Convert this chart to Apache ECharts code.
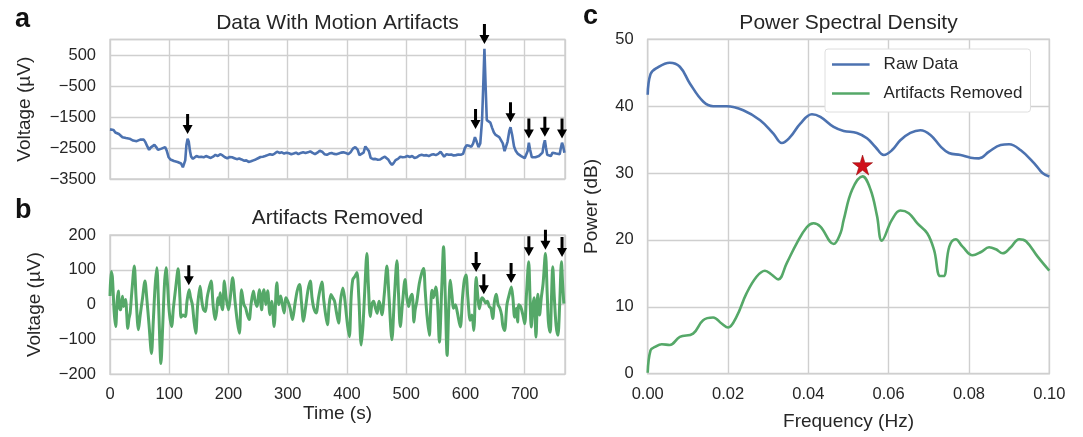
<!DOCTYPE html>
<html><head><meta charset="utf-8">
<script src="https://cdn.jsdelivr.net/npm/echarts@6/dist/echarts.min.js"></script>
<style>html,body{margin:0;padding:0;background:#fff}#c{width:1083px;height:437px}</style>
</head><body><div id="c"></div>
<script>
// ---------- DATA ----------
// Panel a: raw signal [time (s), voltage (µV)]
const rawSignal = [[0,-1900],[3,-1950],[6,-1920],[9,-2000],[12,-1980],[15,-2050],[18,-2080],[21,-2150],[24,-2200],[27,-2180],[30,-2240],[33,-2200],[36,-2190],[39,-2260],[42,-2230],[45,-2280],[48,-2260],[51,-2230],[54,-2190],[57,-2230],[60,-2320],[63,-2450],[66,-2560],[69,-2480],[72,-2420],[75,-2400],[78,-2470],[81,-2560],[84,-2620],[87,-2520],[90,-2460],[93,-2470],[96,-2600],[99,-2800],[102,-2870],[105,-2890],[108,-2920],[111,-2900],[114,-2950],[117,-2930],[120,-3000],[123,-3120],[125,-3150],[127,-2900],[129,-2400],[131,-2200],[133,-2300],[135,-2600],[137,-2780],[140,-2850],[143,-2800],[146,-2760],[150,-2790],[154,-2780],[158,-2800],[162,-2760],[166,-2790],[170,-2820],[174,-2780],[178,-2720],[182,-2760],[186,-2700],[190,-2740],[194,-2800],[198,-2830],[202,-2790],[206,-2800],[210,-2830],[214,-2860],[218,-2840],[222,-2870],[226,-2910],[230,-2900],[234,-2950],[238,-2930],[242,-2900],[246,-2870],[250,-2830],[254,-2790],[258,-2780],[262,-2760],[266,-2730],[270,-2700],[274,-2720],[278,-2680],[282,-2620],[286,-2660],[290,-2640],[294,-2680],[298,-2650],[302,-2670],[306,-2700],[310,-2680],[314,-2650],[318,-2700],[322,-2660],[326,-2640],[330,-2660],[334,-2640],[338,-2610],[342,-2660],[346,-2700],[350,-2650],[354,-2590],[358,-2620],[362,-2700],[366,-2720],[370,-2680],[374,-2660],[378,-2690],[382,-2700],[386,-2680],[390,-2650],[394,-2640],[398,-2660],[402,-2700],[406,-2640],[410,-2520],[414,-2470],[418,-2550],[421,-2730],[424,-2720],[428,-2650],[431,-2450],[434,-2440],[437,-2600],[440,-2820],[444,-2860],[448,-2850],[452,-2880],[456,-2870],[460,-2820],[464,-2780],[467,-2790],[470,-2880],[473,-2980],[476,-3050],[479,-2980],[482,-2890],[486,-2850],[490,-2780],[494,-2800],[498,-2790],[502,-2760],[506,-2790],[510,-2760],[514,-2820],[518,-2800],[522,-2740],[526,-2720],[530,-2740],[534,-2730],[538,-2760],[542,-2720],[546,-2700],[550,-2730],[554,-2690],[558,-2620],[561,-2700],[564,-2780],[568,-2700],[572,-2720],[576,-2710],[580,-2740],[584,-2730],[588,-2710],[592,-2720],[596,-2690],[599,-2500],[602,-2410],[606,-2430],[610,-2460],[613,-2350],[616,-2150],[619,-2300],[622,-2470],[625,-2350],[628,-1600],[630,-500],[632,700],[634,-500],[636,-1600],[639,-1650],[642,-1680],[645,-1850],[648,-2000],[651,-2080],[654,-2100],[657,-2150],[660,-2200],[663,-2350],[666,-2600],[668,-2650],[671,-2300],[674,-1950],[676,-1830],[679,-2100],[682,-2450],[685,-2600],[688,-2680],[691,-2700],[694,-2760],[697,-2800],[700,-2830],[703,-2880],[705,-2600],[707,-2330],[709,-2550],[712,-2800],[715,-2760],[718,-2800],[721,-2740],[724,-2760],[727,-2700],[730,-2650],[732,-2400],[734,-2250],[736,-2500],[738,-2720],[741,-2700],[744,-2760],[747,-2650],[750,-2700],[753,-2680],[756,-2740],[759,-2700],[761,-2500],[763,-2330],[765,-2450],[767,-2650]];
// Panel b: artifacts removed [time (s), voltage (µV)]
const cleanSignal = [[0,25],[2,95],[4,80],[7,-20],[9.6,-63],[12,10],[14,39],[16,-10],[18,-15],[21,24],[23,-5],[26.5,15],[28,-20],[30,-68],[32,-40],[34,-24],[37,40],[41,111],[44,20],[48,-72],[51,-30],[55,20],[59,68],[62,20],[66,-60],[70,-140],[73,-50],[76,50],[79,106],[82,0],[86,-169],[89,-60],[92,60],[94.6,106],[97,60],[100,-20],[104,-63],[107,-10],[111,50],[115,103],[118,20],[120,-36],[123,-30],[127,-34],[130,10],[133.5,43],[136,20],[139,0],[142,-50],[144.7,-82],[148,0],[152,53],[155,10],[158,-15],[161,-20],[164,20],[167,45],[170.6,68],[174,0],[177.4,-43],[180,-20],[182,20],[184,0],[186,34],[188,0],[190,-15],[193,68],[196,20],[200,-15],[203,20],[207,77],[211,10],[215,-50],[218.5,-82],[222,43],[226,0],[229,-10],[232,-30],[235,-43],[238,0],[242,39],[245,10],[248,-5],[252,43],[256,-15],[258,30],[260,43],[263,0],[266,40],[270,-29],[273,10],[277,-63],[281.6,63],[285,0],[288,25],[290,10],[294,-24],[297,20],[300,10],[304,-10],[308,-43],[312,0],[316,40],[320,58],[323,10],[326.6,-48],[330,-10],[334,40],[338,68],[341,20],[344,-10],[348,-24],[352,20],[357.6,65],[361,10],[364,-30],[367,-58],[370,0],[373,29],[376,20],[379,10],[382,-20],[385.8,-53],[389,10],[393,48],[396,20],[398.7,-24],[401,-60],[404,-92],[407,20],[409.8,72],[413,80],[416.7,92],[420,20],[424,-116],[427,-60],[430,40],[433.6,147],[436,60],[439.3,-34],[442,0],[445,10],[448,-10],[451,-25],[454,10],[456,0],[459,-29],[463,30],[467.4,111],[471,20],[475.8,-101],[480,20],[484.3,126],[487,30],[490,-63],[494,10],[498,72],[501,20],[504,-5],[507,20],[510,30],[513,-50],[515,-16],[518,10],[522,60],[526,90],[529.4,104],[532,40],[535,-30],[539,-88],[541,-20],[543.5,41],[546,20],[550,51],[553,0],[556,-108],[560,50],[563,166],[566,20],[569,-146],[572,0],[574.4,70],[577,30],[580,-10],[583,0],[586,-20],[591.3,-64],[595,20],[598,70],[600.9,85],[604,20],[608,-45],[611,-30],[614,-74],[618,78],[621,20],[623.4,-12],[626,10],[628,20],[630.7,15],[634,5],[637,10],[640,-5],[643,-10],[646,-40],[649,10],[652,30],[655,0],[658,-10],[661,-30],[663,-60],[666,-74],[670,0],[674,30],[677.4,51],[680,20],[683,-36],[686,-10],[688,-50],[690,0],[693,-5],[697,-30],[700,-55],[703,30],[706.7,123],[709,20],[711,-64],[714,0],[716,20],[719,-93],[722,30],[725,-30],[728,20],[731,60],[735,147],[738,30],[740,-50],[743,-79],[745,10],[747.3,109],[750,20],[753,-60],[756,-88],[759,0],[762,123],[764,60],[766,3]];
// Arrow tips [time, voltage]
const arrowsA = [[131,-2050],[617,-1890],[632,855],[676,-1670],[707,-2190],[734,-2135],[763,-2190]];
const arrowsB = [[133,56],[618,94],[631,30],[677,62],[707,139],[735,158],[763,137]];
// Panel c: PSD [frequency (Hz), power (dB)]
const psdRaw = [[0,41.7],[0.0007,44.8],[0.0022,45.7],[0.0055,46.5],[0.008,45.9],[0.0105,43.4],[0.0138,40.7],[0.0163,40.0],[0.0197,40.0],[0.0238,39.4],[0.028,37.9],[0.0313,35.9],[0.0334,34.5],[0.0355,35.4],[0.038,37.4],[0.0409,38.8],[0.043,38.4],[0.0463,36.9],[0.0488,36.3],[0.0521,36.0],[0.0546,35.2],[0.0567,33.9],[0.0588,32.7],[0.0608,33.4],[0.0629,34.9],[0.0654,36.0],[0.0679,36.4],[0.0704,35.7],[0.0729,34.0],[0.075,33.0],[0.0779,32.7],[0.0804,32.3],[0.0825,32.2],[0.085,33.2],[0.0879,34.2],[0.09,34.3],[0.0929,33.4],[0.0962,31.5],[0.0983,30.0],[0.1,29.5]];
const psdClean = [[0,0.15],[0.0007,3.5],[0.0018,4.0],[0.0035,4.4],[0.0055,4.3],[0.008,5.5],[0.0113,6.0],[0.0138,8.0],[0.0163,8.4],[0.0184,7.5],[0.02,6.9],[0.0221,8.5],[0.0246,12.0],[0.0271,14.5],[0.0292,15.4],[0.0309,14.8],[0.0325,14.1],[0.0346,16.5],[0.0371,19.5],[0.0396,21.9],[0.0413,22.5],[0.043,22.0],[0.0463,19.4],[0.048,21.0],[0.0488,23.0],[0.0509,27.5],[0.0535,29.5],[0.0555,27.5],[0.0571,23.6],[0.0583,19.9],[0.0608,23.0],[0.0629,24.4],[0.065,24.0],[0.0671,22.5],[0.0696,21.0],[0.0713,18.5],[0.0728,14.6],[0.0737,14.6],[0.0751,19.0],[0.0767,20.1],[0.0784,19.0],[0.0809,17.7],[0.083,18.2],[0.085,18.9],[0.0867,18.6],[0.0884,18.0],[0.0904,18.9],[0.0925,20.1],[0.0942,19.8],[0.0971,17.5],[0.1,15.4]];
const starPoint = [[0.0535,31.2]];
const timeTicks = {min:0, max:768, interval:100};
const voltTicksA = {min:-3500, max:1000, interval:1000};
const voltTicksB = {min:-200, max:200, interval:100};
const freqTicks = {min:0, max:0.1, interval:0.02};
const powerTicks = {min:0, max:50, interval:10};

// ---------- STYLE ----------
const FONT = '"Liberation Sans", Arial, sans-serif';
const TXT = '#262626';
const GRIDC = '#cfcfcf';
const BLUE = '#4c72b0', GREEN = '#55a868', RED = '#d0101a';
const minus = v => (v < 0 ? '\u2212' + Math.abs(v) : String(v));
const ARROW = 'path://M3.5,0 L6.5,0 L6.5,11 L10,11 L5,20 L0,11 L3.5,11 Z';
const STAR = 'path://M50,0 L61.2,34.5 L97.6,34.5 L68.2,55.9 L79.4,90.5 L50,69.1 L20.6,90.5 L31.8,55.9 L2.4,34.5 L38.8,34.5 Z';
const LEGLINE = 'path://M0,0 L0,0 M40,14 L40,14 M0,5.6 L40,5.6 L40,8.4 L0,8.4 Z';

const tickLabel = (extra) => Object.assign({color:TXT, fontFamily:FONT, fontSize:16.5, margin:14, formatter:minus, showMaxLabel:false}, extra||{});
const split = {show:true, lineStyle:{color:GRIDC, width:1.4}};
const nameStyle = {color:TXT, fontFamily:FONT, fontSize:19};

const chart = echarts.init(document.getElementById('c'), null, {renderer:'canvas'});
chart.setOption({
  animation:false,
  backgroundColor:'#fff',
  grid:[
    {left:110, top:39.5, width:455, height:139.5, show:true, borderColor:GRIDC, borderWidth:1.4, backgroundColor:'transparent'},
    {left:110, top:235, width:455, height:139.3, show:true, borderColor:GRIDC, borderWidth:1.4, backgroundColor:'transparent'},
    {left:647.7, top:39.3, width:401.6, height:334.4, show:true, borderColor:GRIDC, borderWidth:1.4, backgroundColor:'transparent'}
  ],
  xAxis:[
    Object.assign({gridIndex:0, type:'value', axisLine:{show:false}, axisTick:{show:false}, axisLabel:{show:false}, splitLine:split}, timeTicks),
    Object.assign({gridIndex:1, type:'value', axisLine:{show:false}, axisTick:{show:false}, axisLabel:tickLabel({margin:12}), splitLine:split,
      name:'Time (s)', nameLocation:'middle', nameGap:30, nameTextStyle:nameStyle}, timeTicks),
    Object.assign({gridIndex:2, type:'value', axisLine:{show:false}, axisTick:{show:false}, axisLabel:tickLabel({margin:12, showMaxLabel:true, formatter:v=>v.toFixed(2)}), splitLine:split,
      name:'Frequency (Hz)', nameLocation:'middle', nameGap:39, nameTextStyle:nameStyle}, freqTicks)
  ],
  yAxis:[
    Object.assign({gridIndex:0, type:'value', axisLine:{show:false}, axisTick:{show:false}, axisLabel:tickLabel(), splitLine:split,
      name:'Voltage (µV)', nameLocation:'middle', nameGap:76, nameTextStyle:nameStyle}, voltTicksA),
    Object.assign({gridIndex:1, type:'value', axisLine:{show:false}, axisTick:{show:false}, axisLabel:tickLabel({showMaxLabel:true}), splitLine:split,
      name:'Voltage (µV)', nameLocation:'middle', nameGap:66, nameTextStyle:nameStyle}, voltTicksB),
    Object.assign({gridIndex:2, type:'value', axisLine:{show:false}, axisTick:{show:false}, axisLabel:tickLabel({showMaxLabel:true}), splitLine:split,
      name:'Power (dB)', nameLocation:'middle', nameGap:46, nameTextStyle:nameStyle}, powerTicks)
  ],
  legend:{
    left:825, top:49, orient:'vertical', itemWidth:37.6, itemHeight:14, itemGap:12,
    icon:LEGLINE,
    padding:[7,8,10,7], backgroundColor:'#fff', borderColor:'#dedede', borderWidth:1, borderRadius:3,
    textStyle:{color:TXT, fontFamily:FONT, fontSize:17, padding:[0,0,0,9]},
    data:['Raw Data','Artifacts Removed']
  },
  graphic:[
    {type:'text', left:15, top:6, style:{text:'a', fontFamily:FONT, fontWeight:'bold', fontSize:27, fill:'#111'}},
    {type:'text', left:15, top:197, style:{text:'b', fontFamily:FONT, fontWeight:'bold', fontSize:27, fill:'#111'}},
    {type:'text', left:583, top:3, style:{text:'c', fontFamily:FONT, fontWeight:'bold', fontSize:27, fill:'#111'}},
    {type:'text', x:337.5, y:23.3, style:{text:'Data With Motion Artifacts', fontFamily:FONT, fontSize:21, fill:TXT, align:'center', verticalAlign:'middle'}},
    {type:'text', x:337.5, y:218.7, style:{text:'Artifacts Removed', fontFamily:FONT, fontSize:21, fill:TXT, align:'center', verticalAlign:'middle'}},
    {type:'text', x:848.5, y:23.3, style:{text:'Power Spectral Density', fontFamily:FONT, fontSize:21, fill:TXT, align:'center', verticalAlign:'middle'}}
  ],
  series:[
    {type:'line', xAxisIndex:0, yAxisIndex:0, data:rawSignal, symbol:'none', smooth:false, lineStyle:{color:BLUE, width:2.6}, z:3},
    {type:'line', xAxisIndex:1, yAxisIndex:1, data:cleanSignal, symbol:'none', smooth:0.3, lineStyle:{color:GREEN, width:3}, z:3},
    {type:'scatter', xAxisIndex:0, yAxisIndex:0, data:arrowsA, symbol:ARROW, symbolSize:[10,20], symbolOffset:[0,-10], symbolKeepAspect:false, itemStyle:{color:'#000', opacity:1}, clip:false, silent:true, z:5},
    {type:'scatter', xAxisIndex:1, yAxisIndex:1, data:arrowsB, symbol:ARROW, symbolSize:[10,20], symbolOffset:[0,-10], symbolKeepAspect:false, itemStyle:{color:'#000', opacity:1}, clip:false, silent:true, z:5},
    {name:'Raw Data', type:'line', xAxisIndex:2, yAxisIndex:2, data:psdRaw, symbol:'none', smooth:0.4, lineStyle:{color:BLUE, width:2.6}, itemStyle:{color:BLUE}, z:3},
    {name:'Artifacts Removed', type:'line', xAxisIndex:2, yAxisIndex:2, data:psdClean, symbol:'none', smooth:0.4, lineStyle:{color:GREEN, width:2.6}, itemStyle:{color:GREEN}, z:3},
    {type:'scatter', xAxisIndex:2, yAxisIndex:2, data:starPoint, symbol:STAR, symbolSize:20, itemStyle:{color:RED, opacity:1, borderColor:'#8b0000', borderWidth:0.5}, silent:true, z:6}
  ]
});
</script></body></html>
